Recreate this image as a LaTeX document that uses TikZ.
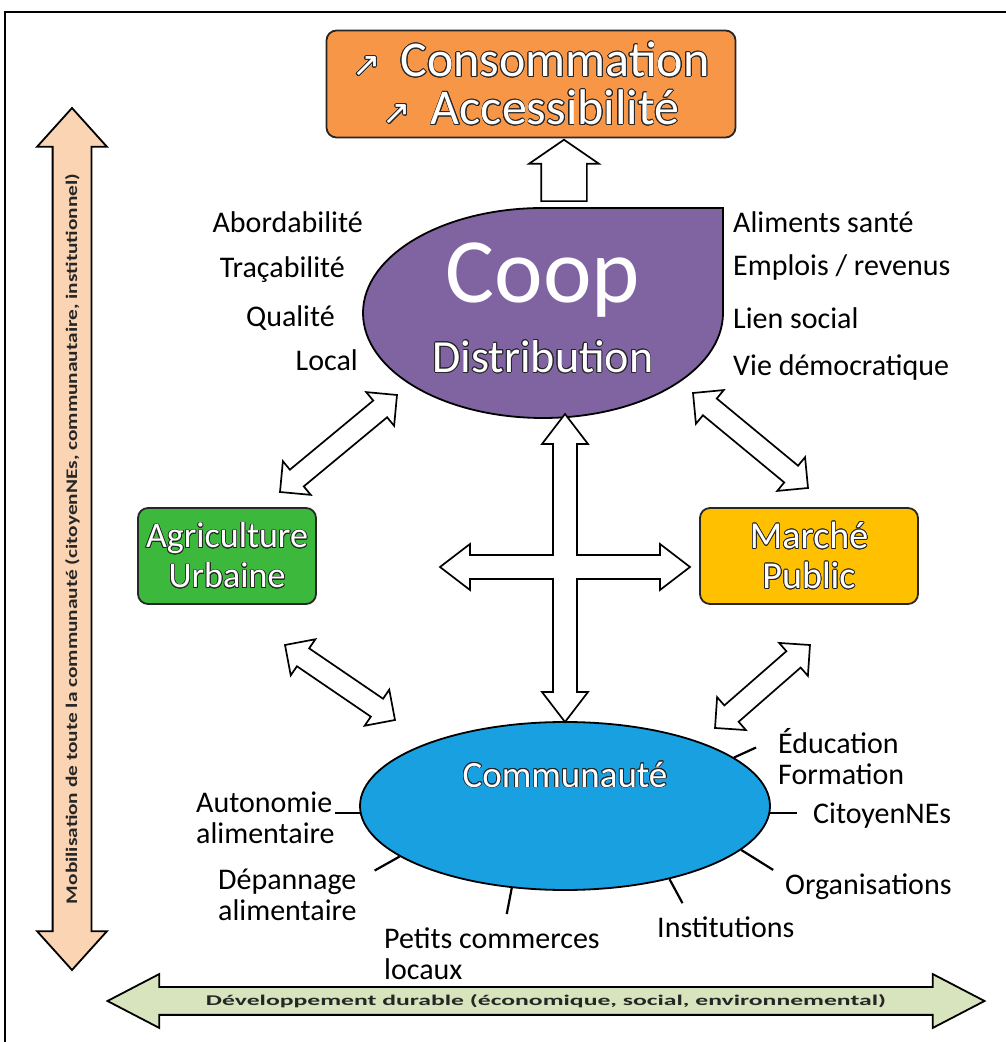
\documentclass[tikz,border=0pt]{standalone}
\usepackage{fontspec}
\setmainfont{Carlito}
\newfontfamily\symbfont{DejaVu Sans}
\usepackage{graphicx}
\usepackage{contour}
\contourlength{0.8pt}
\usetikzlibrary{shapes.arrows,shapes.geometric,calc,positioning}

\definecolor{consorange}{RGB}{247,150,70}
\definecolor{cooppurple}{RGB}{128,100,162}
\definecolor{agrigreen}{RGB}{60,185,60}
\definecolor{marcheyellow}{RGB}{255,192,0}
\definecolor{commblue}{RGB}{25,160,225}
\definecolor{mobpeach}{RGB}{251,212,180}
\definecolor{devgreen}{RGB}{215,228,189}

\newcommand\outlined[1]{\textcolor{white}{\contour{black!85}{#1}}}
% hollow double arrow between two named points
\newcommand\linkarrow[3][]{%
  \path let \p1=($(#3)-(#2)$) in
    node[hollow,#1,minimum height={veclen(\x1,\y1)},rotate={atan2(\y1,\x1)}] at ($(#2)!0.5!(#3)$) {};}

\begin{document}
\begin{tikzpicture}[x=1pt,y=1pt,
  box/.style={draw=black!85,line width=1.8,rounded corners=10,align=center},
  lbl/.style={font=\fontsize{30}{31}\selectfont,inner sep=0,align=left},
  hollow/.style={double arrow,draw,line width=1.7,fill=white,inner sep=10,
    double arrow head extend=11,double arrow tip angle=90},
  spoke/.style={line width=2.2}]
\useasboundingbox (0,0) rectangle (1006,1042);
\draw[line width=2] (5,0) -- (5,1030) -- (1006,1030);

% results
\node[box,fill=consorange,minimum width=409,minimum height=107,
  font=\fontsize{50}{48}\selectfont] (cons) at (531,958)
  {\outlined{{\symbfont\fontsize{34}{34}\selectfont ↗}\, Consommation}\\
   \outlined{{\symbfont\fontsize{34}{34}\selectfont ↗}\, Accessibilité}};

% coop
\draw[line width=1.8,fill=cooppurple] (723,834) -- (723,729)
  arc[start angle=0,end angle=-180,x radius=180,y radius=105]
  arc[start angle=180,end angle=90,x radius=180,y radius=105] -- cycle;
\coordinate (coop) at (543,729);
\node[text=white,font=\fontsize{92}{92}\selectfont] (cooptitle) at (543,762) {Coop};
\node[font=\fontsize{46}{46}\selectfont] (coopsub) at (543,685) {\outlined{Distribution}};

\node[single arrow,draw,fill=white,line width=1.7,inner sep=22,rotate=90,anchor=tail,
  single arrow head extend=12,single arrow tip angle=111,minimum height=49] (up) at (564,840) {};

\node[lbl,anchor=east] (abord) at (363,820) {Abordabilité};
\node[lbl,anchor=east] (traca) at (345,772) {Traçabilité};
\node[lbl,anchor=east] (qual) at (335,724) {Qualité};
\node[lbl,anchor=east] (local) at (358,682) {Local};
\node[lbl,anchor=west] (alim) at (733,820) {Aliments santé};
\node[lbl,anchor=west] (empl) at (733,774) {Emplois / revenus};
\node[lbl,anchor=west] (lien) at (733,724) {Lien social};
\node[lbl,anchor=west] (vie) at (733,674) {Vie démocratique};

% partners
\node[box,fill=agrigreen,minimum width=178,minimum height=96,
  font=\fontsize{36}{40}\selectfont] (agri) at (227,486)
  {\outlined{Agriculture}\\\outlined{Urbaine}};
\node[box,fill=marcheyellow,minimum width=218,minimum height=96,
  font=\fontsize{38}{40}\selectfont] (marche) at (809,486)
  {\outlined{Marché}\\\outlined{Public}};

\node[ellipse,draw,line width=1.8,fill=commblue,minimum width=410,minimum height=168] (comm) at (565,236) {};
\node[font=\fontsize{37}{37}\selectfont] (commtext) at (565,267) {\outlined{Communauté}};

% links
\coordinate (ca1) at (280,550); \coordinate (ca2) at (397,647);
\coordinate (cm1) at (693,649); \coordinate (cm2) at (808,554);
\coordinate (ac1) at (285,397); \coordinate (ac2) at (395,322);
\coordinate (mc1) at (810,397); \coordinate (mc2) at (715,314);
\linkarrow[name=coopagri]{ca1}{ca2}
\linkarrow[name=coopmarche]{cm1}{cm2}
\linkarrow[name=agricomm]{ac1}{ac2}
\linkarrow[name=marchecomm]{mc1}{mc2}

\draw[line width=1.7,line join=miter,fill=white] (565,628) -- (588,598) -- (577,598) -- (577,487)
  -- (660,487) -- (660,498) -- (690,475) -- (660,452) -- (660,463) -- (577,463)
  -- (577,350) -- (588,350) -- (565,320) -- (542,350) -- (553,350) -- (553,463)
  -- (470,463) -- (470,452) -- (440,475) -- (470,498) -- (470,487) -- (553,487)
  -- (553,598) -- (542,598) -- cycle;

% community
\node[lbl,anchor=west] (auto) at (196,224) {Autonomie\\alimentaire};
\node[lbl,anchor=west] (depan) at (218,147) {Dépannage\\alimentaire};
\node[lbl,anchor=west] (petits) at (384,88) {Petits commerces\\locaux};
\node[lbl,anchor=west] (inst) at (657,115) {Institutions};
\node[lbl,anchor=west] (orga) at (785,155) {Organisations};
\node[lbl,anchor=west] (cito) at (813,226) {CitoyenNEs};
\node[lbl,anchor=west] (educ) at (778,285) {Éducation\\Formation};
\draw[spoke] (comm.182) -- ++(-25,0);
\draw[spoke] (comm.197) -- ++(-25,-14);
\draw[spoke] (comm.237) -- ++(-5,-26);
\draw[spoke] (comm.325) -- ++(13,-24);
\draw[spoke] (comm.346) -- ++(32,-20);
\draw[spoke] (comm.358) -- ++(27,0);
\draw[spoke] (comm.16) -- ++(22,10);

% axes
\node[double arrow,draw,line width=1.8,fill=mobpeach,rotate=90,inner sep=0,
  minimum height=862,double arrow head extend=15.5,double arrow tip angle=84,text=black!85] (mobil) at (72,503)
  {\rule[-18.5pt]{0pt}{37pt}\raisebox{-5pt}{\resizebox{730pt}{12pt}{\bfseries Mobilisation de toute la communauté (citoyenNEs, communautaire, institutionnel)}}};
\node[double arrow,draw,line width=1.8,fill=devgreen,inner sep=0,
  minimum height=877,double arrow head extend=13,double arrow tip angle=55,text=black!85] (dev) at (546,41)
  {\rule[-13pt]{0pt}{26pt}\raisebox{-5pt}{\resizebox{680pt}{11pt}{\bfseries Développement durable (économique, social, environnemental)}}\hspace{36pt}};
\end{tikzpicture}
\end{document}
